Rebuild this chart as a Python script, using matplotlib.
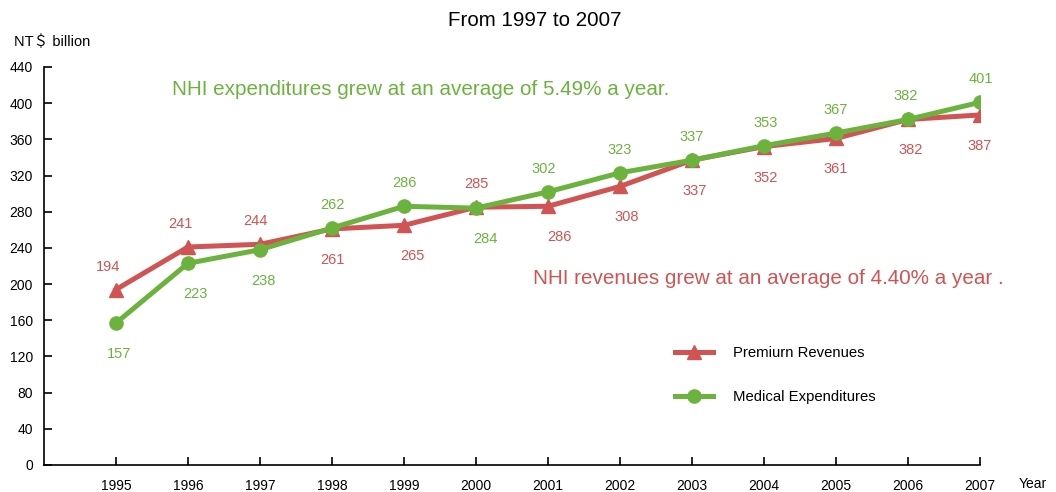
import matplotlib
matplotlib.use("Agg")
import matplotlib.pyplot as plt
from matplotlib.lines import Line2D

plt.rcParams['font.family'] = ['Liberation Sans', 'Noto Sans CJK SC', 'DejaVu Sans']

years = [1995, 1996, 1997, 1998, 1999, 2000, 2001, 2002, 2003, 2004, 2005, 2006, 2007]
revenues = [194, 241, 244, 261, 265, 285, 286, 308, 337, 352, 361, 382, 387]
expenditures = [157, 223, 238, 262, 286, 284, 302, 323, 337, 353, 367, 382, 401]
# label placement: +1 above, -1 below
rev_pos = [1, 1, 1, -1, -1, 1, -1, -1, -1, -1, -1, -1, -1]
exp_pos = [-1, -1, -1, 1, 1, -1, 1, 1, 1, 1, 1, 1, 1]
# small horizontal nudges of the value labels (pixels)
rev_dx = [-8, -8, -5, 0, 8, 0, 11, 7, 3, 2, 0, 3, 0]
exp_dx = [3, 7, 3, 0, 0, 9, -4, 0, 0, 2, 0, -2, 1]
yticks = list(range(0, 441, 40))

RED = '#d05454'
GREEN = '#6cb33e'
PT = 0.72  # points per pixel at 100 dpi

fig = plt.figure(figsize=(10.56, 4.92), dpi=100)
ax = fig.add_axes([44/1056, 27/492, (980-44)/1056, (465-67)/492])

ax.plot(years, revenues, color=RED, lw=3.6, marker='^', ms=9.5, zorder=3)
ax.plot(years, expenditures, color=GREEN, lw=3.6, marker='o', ms=9.5, zorder=4)

def off(p):
    return 23 * PT if p > 0 else -31 * PT

for x, v, p, dx in zip(years, revenues, rev_pos, rev_dx):
    ax.annotate(str(v), (x, v), xytext=(dx * PT, off(p)), textcoords='offset points',
                ha='center', va='center', color=RED, fontsize=10.5)
for x, v, p, dx in zip(years, expenditures, exp_pos, exp_dx):
    ax.annotate(str(v), (x, v), xytext=(dx * PT, off(p)), textcoords='offset points',
                ha='center', va='center', color=GREEN, fontsize=10.5)

ax.set_xlim(1994, 2007)
ax.set_ylim(0, 440)
ax.set_xticks(years)
ax.set_yticks(yticks)
ax.tick_params(axis='both', direction='in', length=6, width=1.2, labelsize=10)
ax.tick_params(axis='x', pad=10)
ax.tick_params(axis='y', pad=8)
for s in ['top', 'right']:
    ax.spines[s].set_visible(False)
for s in ['left', 'bottom']:
    ax.spines[s].set_linewidth(1.2)

fig.text(535/1056, 1 - 20/492, 'From 1997 to 2007', ha='center', va='center', fontsize=14.8)
fig.text(14/1056, 1 - 42/492, 'NT＄ billion', ha='left', va='center', fontsize=10.5)
fig.text(1019/1056, 1 - 484/492, 'Year', ha='left', va='center', fontsize=10)

fig.text(172/1056, 1 - 90/492, 'NHI expenditures grew at an average of 5.49% a year.',
         ha='left', va='center', color=GREEN, fontsize=14.9)
fig.text(533/1056, 1 - 278/492, 'NHI revenues grew at an average of 4.40% a year .',
         ha='left', va='center', color=RED, fontsize=14.9)

handles = [Line2D([], [], color=RED, lw=3.6, marker='^', ms=9.5),
           Line2D([], [], color=GREEN, lw=3.6, marker='o', ms=9.5)]
fig.legend(handles, ['Premiurn Revenues', 'Medical Expenditures'],
           loc='upper left', bbox_to_anchor=(662/1056, 1 - 333/492),
           frameon=False, fontsize=10.7, handlelength=2.5, labelspacing=2.0,
           handletextpad=1.35)

fig.savefig('out.png', dpi=100)
